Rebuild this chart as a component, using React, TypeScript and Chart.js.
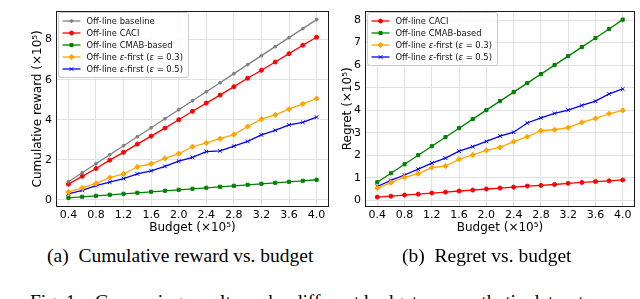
import React, { useEffect, useRef } from 'react';
import { Chart, registerables } from 'chart.js';
import { drawPoint } from 'chart.js/helpers';

Chart.register(...registerables);

// ---------------- DATA ----------------
const budgets = [0.4, 0.6, 0.8, 1.0, 1.2, 1.4, 1.6, 1.8, 2.0, 2.2, 2.4, 2.6, 2.8, 3.0, 3.2, 3.4, 3.6, 3.8, 4.0];
const xTickValues = [0.4, 0.8, 1.2, 1.6, 2.0, 2.4, 2.8, 3.2, 3.6, 4.0];
const rewardTickValues = [0, 2, 4, 6, 8];
const regretTickValues = [0, 1, 2, 3, 4, 5, 6, 7, 8];

const rewardBaseline = [0.9, 1.35, 1.8, 2.25, 2.7, 3.15, 3.6, 4.05, 4.5, 4.95, 5.4, 5.85, 6.3, 6.75, 7.2, 7.65, 8.1, 8.55, 9.0];
const rewardCACI = [0.78, 1.17, 1.56, 1.98, 2.37, 2.78, 3.18, 3.58, 4.0, 4.42, 4.83, 5.23, 5.65, 6.07, 6.47, 6.88, 7.3, 7.72, 8.12];
const rewardCMAB = [0.1, 0.15, 0.2, 0.25, 0.3, 0.35, 0.4, 0.45, 0.5, 0.55, 0.6, 0.65, 0.7, 0.75, 0.8, 0.85, 0.9, 0.95, 1.0];
const rewardEps03 = [0.39, 0.59, 0.82, 1.11, 1.29, 1.65, 1.8, 2.07, 2.31, 2.65, 2.84, 3.05, 3.26, 3.66, 4.03, 4.24, 4.53, 4.79, 5.06];
const rewardEps05 = [0.3, 0.47, 0.71, 0.88, 1.06, 1.29, 1.45, 1.67, 1.93, 2.12, 2.41, 2.44, 2.68, 2.92, 3.24, 3.47, 3.74, 3.87, 4.13];

const regretCACI = [0.14, 0.18, 0.23, 0.27, 0.32, 0.36, 0.41, 0.45, 0.5, 0.54, 0.58, 0.63, 0.66, 0.7, 0.75, 0.79, 0.83, 0.86, 0.9];
const regretCMAB = [0.8, 1.2, 1.6, 2.0, 2.4, 2.8, 3.2, 3.6, 4.0, 4.4, 4.8, 5.2, 5.6, 6.0, 6.4, 6.8, 7.2, 7.6, 8.02];
const regretEps03 = [0.54, 0.78, 1.02, 1.18, 1.45, 1.52, 1.82, 2.01, 2.21, 2.35, 2.6, 2.82, 3.09, 3.13, 3.22, 3.46, 3.63, 3.84, 3.99];
const regretEps05 = [0.61, 0.88, 1.12, 1.38, 1.65, 1.87, 2.18, 2.38, 2.61, 2.85, 3.02, 3.43, 3.66, 3.86, 4.0, 4.21, 4.4, 4.72, 4.94];

const labelBaseline = 'Off-line baseline';
const labelCACI = 'Off-line CACI';
const labelCMAB = 'Off-line CMAB-based';
const labelEps03 = 'Off-line ε-first (ε = 0.3)';
const labelEps05 = 'Off-line ε-first (ε = 0.5)';

// ---------------- STYLES ----------------
const styleBaseline = { color: '#808080', pointStyle: 'circle', radius: 1.4 };
const styleCACI = { color: '#ff0000', pointStyle: 'circle', radius: 2 };
const styleCMAB = { color: '#008000', pointStyle: 'rect', radius: 2.2 };
const styleEps03 = { color: '#ffa500', pointStyle: 'rectRot', radius: 2.6 };
const styleEps05 = { color: '#0000ff', pointStyle: 'crossRot', radius: 2.6 };

const FONT = '"DejaVu Sans", Verdana, sans-serif';

function makeDataset(label: string, values: number[], st: any) {
  return {
    label,
    data: budgets.map((b, i) => ({ x: b, y: values[i] })),
    borderColor: st.color,
    backgroundColor: st.color,
    borderWidth: 1.3,
    pointStyle: st.pointStyle,
    pointRadius: st.radius,
    pointBorderWidth: 1,
    pointBorderColor: st.color,
    pointBackgroundColor: st.color,
    tension: 0,
    fill: false,
  };
}

function runs(text: string) {
  const parts = text.split('ε');
  const out: { t: string; it: boolean }[] = [];
  parts.forEach((p, i) => {
    if (p) out.push({ t: p, it: false });
    if (i < parts.length - 1) out.push({ t: 'ε', it: true });
  });
  return out;
}

const frameLegendPlugin = {
  id: 'frameLegend',
  afterDraw(chart: any) {
    const { ctx, chartArea: a } = chart;
    ctx.save();
    // frame
    ctx.strokeStyle = '#1a1a1a';
    ctx.lineWidth = 1;
    ctx.strokeRect(Math.round(a.left) + 0.5, Math.round(a.top) + 0.5, Math.round(a.right - a.left) - 1, Math.round(a.bottom - a.top) - 1);

    // legend
    const fs = 8.4;
    const fN = `${fs}px ${FONT}`;
    const fI = `italic ${fs}px ${FONT}`;
    const sets = chart.data.datasets;
    const measure = (label: string) => {
      let w = 0;
      for (const r of runs(label)) {
        ctx.font = r.it ? fI : fN;
        w += ctx.measureText(r.t).width;
      }
      return w;
    };
    let maxW = 0;
    sets.forEach((d: any) => { maxW = Math.max(maxW, measure(d.label)); });
    const bx = Math.round(a.left) + 2.5;
    const by = Math.round(a.top) + 1.5;
    const rowH = 12;
    const bw = Math.round(30 + maxW + 4);
    const bh = sets.length * rowH + 5;
    ctx.fillStyle = 'rgba(255,255,255,0.85)';
    ctx.strokeStyle = '#cccccc';
    ctx.lineWidth = 1;
    ctx.beginPath();
    if (ctx.roundRect) ctx.roundRect(bx, by, bw, bh, 2.5); else ctx.rect(bx, by, bw, bh);
    ctx.fill();
    ctx.stroke();

    sets.forEach((d: any, i: number) => {
      const y = by + 8.5 + i * rowH;
      const x0 = bx + 4;
      const x1 = bx + 22;
      ctx.strokeStyle = d.borderColor;
      ctx.lineWidth = 1.3;
      ctx.beginPath();
      ctx.moveTo(x0, y);
      ctx.lineTo(x1, y);
      ctx.stroke();
      ctx.fillStyle = d.pointBackgroundColor;
      ctx.strokeStyle = d.pointBorderColor;
      ctx.lineWidth = 1;
      drawPoint(ctx, { pointStyle: d.pointStyle, radius: d.pointRadius, rotation: 0, borderWidth: 1 }, (x0 + x1) / 2, y);
      let tx = bx + 28;
      ctx.fillStyle = '#111';
      ctx.textBaseline = 'middle';
      ctx.textAlign = 'left';
      for (const r of runs(d.label)) {
        ctx.font = r.it ? fI : fN;
        ctx.fillText(r.t, tx, y + 0.5);
        tx += ctx.measureText(r.t).width;
      }
    });
    ctx.restore();
  },
};

interface PanelProps {
  left: number;
  width: number;
  height: number;
  padLeft: number;
  padTop: number;
  padRight: number;
  yWidth: number;
  xHeight: number;
  yMin: number;
  yMax: number;
  yTicks: number[];
  yTitle: string;
  datasets: any[];
}

function Panel(p: PanelProps) {
  const ref = useRef<HTMLCanvasElement | null>(null);
  useEffect(() => {
    if (!ref.current) return;
    const tickFont = { family: FONT, size: 11 };
    const titleFont = { family: FONT, size: 12 };
    const chart = new Chart(ref.current, {
      type: 'line',
      data: { datasets: p.datasets },
      options: {
        animation: false,
        responsive: false,
        maintainAspectRatio: false,
        devicePixelRatio: 1,
        layout: { padding: { left: p.padLeft, top: p.padTop, right: p.padRight, bottom: 0 } },
        plugins: { legend: { display: false }, tooltip: { enabled: false } },
        scales: {
          x: {
            type: 'linear',
            min: 0.22,
            max: 4.18,
            afterBuildTicks: (s: any) => { s.ticks = xTickValues.map((v) => ({ value: v })); },
            afterFit: (s: any) => { s.height = p.xHeight; },
            ticks: {
              callback: (v: any) => Number(v).toFixed(1),
              font: tickFont,
              color: '#000',
              padding: 2,
              maxRotation: 0,
              autoSkip: false,
            },
            grid: { color: '#e2e2e2', drawTicks: false, lineWidth: 1 },
            border: { display: false },
            title: { display: true, text: 'Budget (×10⁵)', font: titleFont, color: '#000', padding: 0 },
          },
          y: {
            type: 'linear',
            min: p.yMin,
            max: p.yMax,
            afterBuildTicks: (s: any) => { s.ticks = p.yTicks.map((v) => ({ value: v })); },
            afterFit: (s: any) => { s.width = p.yWidth; },
            ticks: {
              callback: (v: any) => String(v),
              font: tickFont,
              color: '#000',
              padding: 4,
              autoSkip: false,
            },
            grid: { color: '#e2e2e2', drawTicks: false, lineWidth: 1 },
            border: { display: false },
            title: { display: true, text: p.yTitle, font: titleFont, color: '#000', padding: 0 },
          },
        },
      } as any,
      plugins: [frameLegendPlugin],
    });
    return () => chart.destroy();
  }, []);
  return (
    <canvas
      ref={ref}
      width={p.width}
      height={p.height}
      style={{ position: 'absolute', left: p.left, top: 0, width: p.width, height: p.height }}
    />
  );
}

const captionStyle: React.CSSProperties = {
  position: 'absolute',
  fontFamily: '"Liberation Serif", "Times New Roman", serif',
  fontSize: 19.5,
  lineHeight: '20px',
  color: '#000',
  whiteSpace: 'nowrap',
};

export default function App() {
  const leftSets = [
    makeDataset(labelBaseline, rewardBaseline, styleBaseline),
    makeDataset(labelCACI, rewardCACI, styleCACI),
    makeDataset(labelCMAB, rewardCMAB, styleCMAB),
    makeDataset(labelEps03, rewardEps03, styleEps03),
    makeDataset(labelEps05, rewardEps05, styleEps05),
  ];
  const rightSets = [
    makeDataset(labelCACI, regretCACI, styleCACI),
    makeDataset(labelCMAB, regretCMAB, styleCMAB),
    makeDataset(labelEps03, regretEps03, styleEps03),
    makeDataset(labelEps05, regretEps05, styleEps05),
  ];
  return (
    <div style={{ position: 'absolute', left: 0, top: 0, width: 640, height: 299, overflow: 'hidden', background: '#fff' }}>
      <Panel
        left={0} width={335} height={235}
        padLeft={31} padTop={2} padRight={6}
        yWidth={25} xHeight={28}
        yMin={-0.36} yMax={9.45} yTicks={rewardTickValues}
        yTitle="Cumulative reward (×10⁵)"
        datasets={leftSets}
      />
      <Panel
        left={320} width={320} height={235}
        padLeft={21} padTop={1} padRight={3}
        yWidth={24} xHeight={28}
        yMin={-0.3} yMax={8.42} yTicks={regretTickValues}
        yTitle="Regret (×10⁵)"
        datasets={rightSets}
      />
      <div style={{ ...captionStyle, left: 47, top: 246 }}>(a)&nbsp; Cumulative reward vs. budget</div>
      <div style={{ ...captionStyle, left: 402, top: 246 }}>(b)&nbsp; Regret vs. budget</div>
      <div style={{ ...captionStyle, left: 30, top: 292 }}>Fig. 1.&nbsp;&nbsp; Comparing results under different budgets on synthetic dataset</div>
    </div>
  );
}
